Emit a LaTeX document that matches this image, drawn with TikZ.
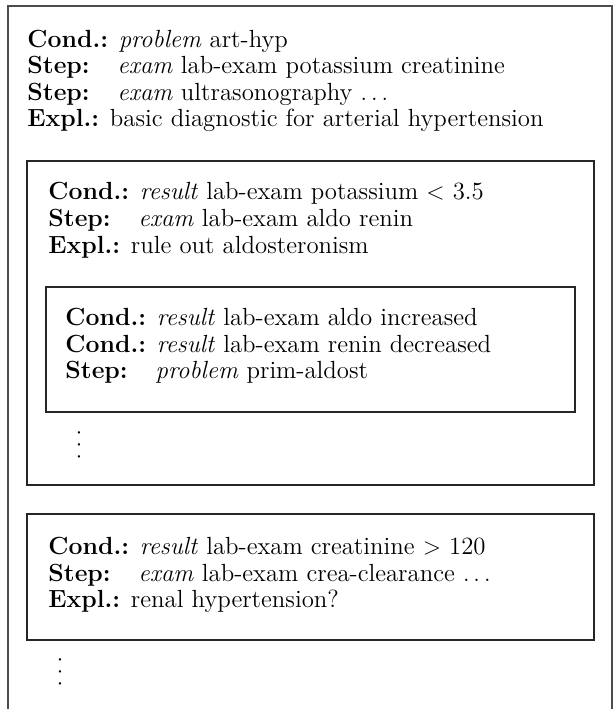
\documentclass[tikz,border=0pt]{standalone}
\usetikzlibrary{positioning}
\newcommand{\cnd}{\textbf{Cond.:}}
\newcommand{\stp}{\textbf{Step:}\hspace{14pt}}
\newcommand{\xpl}{\textbf{Expl.:}}
\newcommand{\vdts}{\rotatebox{-90}{.\kern2.7pt.\kern2.7pt.}}

\begin{document}
\begin{tikzpicture}[
    x=0.5pt, y=-0.5pt,
    every node/.style={font=\fontsize{12.4}{14}\selectfont},
    line/.style={anchor=base west, inner sep=0pt},
    frame/.style={draw=black!85, line width=0.6pt},
    outer/.style={draw=black!70, line width=1.1pt},
  ]
  \useasboundingbox (0,0) rectangle (615,709);

  % outer frame, open at the bottom
  \draw[outer] (8,709) -- (8,6) -- (612,6) -- (612,709);

  % top level
  \node[line] (top1) at (27,47) {\cnd{} \textit{problem} art-hyp};
  \node[line] (top2) at (27,73) {\stp\textit{exam} lab-exam potassium creatinine};
  \node[line] (top3) at (27,100) {\stp\textit{exam} ultrasonography $\ldots$};
  \node[line] (top4) at (27,126) {\xpl{} basic diagnostic for arterial hypertension};

  % potassium branch
  \draw[frame] (27,161) rectangle (594,485);
  \node[line] (kal1) at (48,199) {\cnd{} \textit{result} lab-exam potassium $<$ 3.5};
  \node[line] (kal2) at (48,226) {\stp\textit{exam} lab-exam aldo renin};
  \node[line] (kal3) at (48,253) {\xpl{} rule out aldosteronism};

  % aldosteronism
  \draw[frame] (46,287) rectangle (575,412);
  \node[line] (ald1) at (65,325) {\cnd{} \textit{result} lab-exam aldo increased};
  \node[line] (ald2) at (65,352) {\cnd{} \textit{result} lab-exam renin decreased};
  \node[line] (ald3) at (65,378) {\stp\textit{problem} prim-aldost};
  \node (dots1) at (79,445) {\vdts};

  % creatinine branch
  \draw[frame] (27,514) rectangle (594,640);
  \node[line] (cre1) at (48,554) {\cnd{} \textit{result} lab-exam creatinine $>$ 120};
  \node[line] (cre2) at (48,581) {\stp\textit{exam} lab-exam crea-clearance $\ldots$};
  \node[line] (cre3) at (48,607) {\xpl{} renal hypertension?};
  \node (dots2) at (60,672) {\vdts};
\end{tikzpicture}
\end{document}
